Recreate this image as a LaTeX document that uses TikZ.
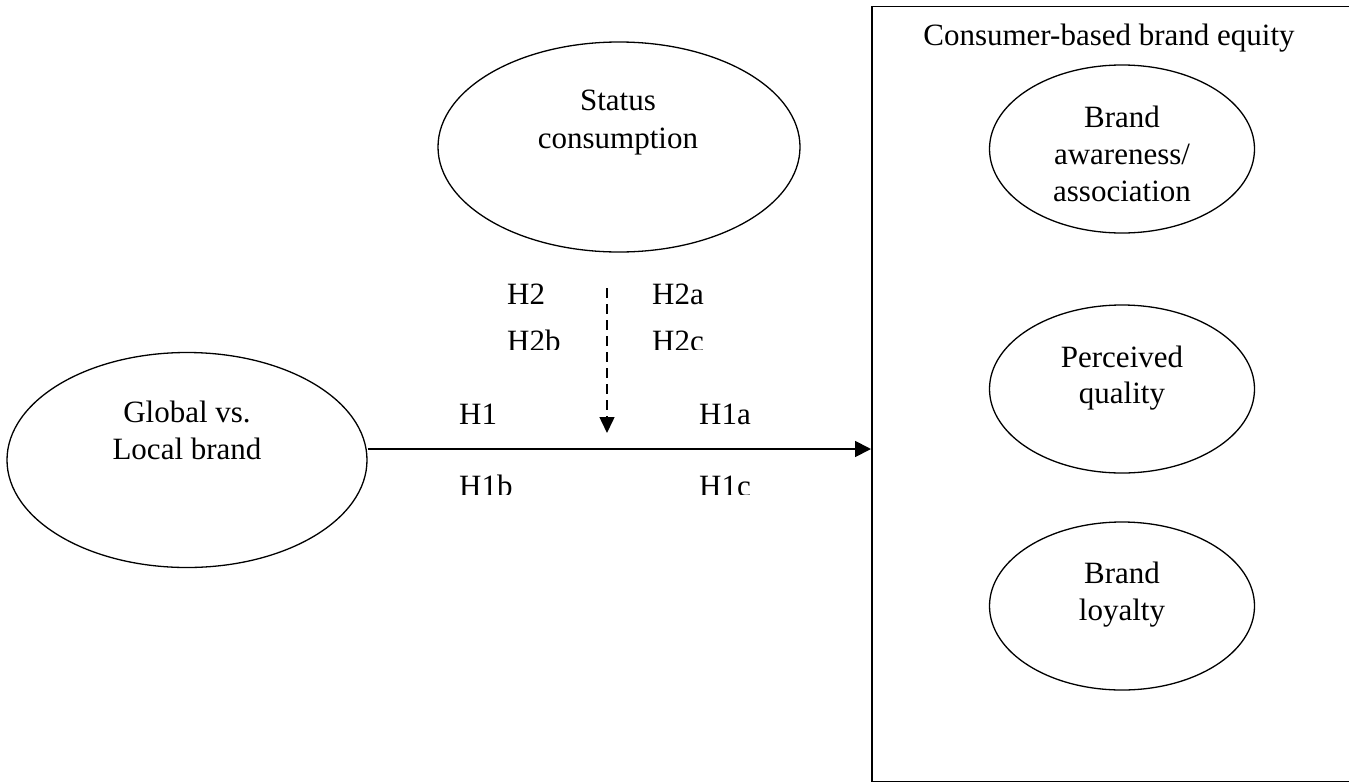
\documentclass[tikz,border=0pt]{standalone}
\usepackage{fontspec}
\setmainfont{Liberation Serif}
\usetikzlibrary{shapes.geometric,arrows.meta}
\begin{document}
\begin{tikzpicture}[x=1pt,y=-1pt,
  font=\fontsize{31}{37.5}\selectfont,
  oval/.style={draw, ellipse, line width=1.3pt, inner sep=0pt},
  txt/.style={anchor=base, inner sep=0pt},
  hlab/.style={anchor=base west, inner sep=0pt},
  solidarrow/.style={line width=1.8pt, -{Triangle[length=16pt,width=16pt]}},
  dasharrow/.style={line width=1.5pt, dash pattern=on 10pt off 6pt, -{Triangle[length=16pt,width=15pt]}},
  framebox/.style={draw, line width=1.5pt, rectangle, inner sep=0pt, anchor=north west}
]
\useasboundingbox (0,0) rectangle (1349,782);
\clip (0,0) rectangle (1349,782);

% outer box
\node[framebox, minimum width=481pt, minimum height=775pt] (cbbe) at (871,5.5) {};
\node[txt] (title) at (1109,45) {Consumer-based brand equity};

% ellipses
\node[oval, minimum width=360pt, minimum height=215pt] (gl) at (187,460) {};
\node[oval, minimum width=362pt, minimum height=210pt] (sc) at (619,147) {};
\node[oval, minimum width=265pt, minimum height=168pt] (ba) at (1122,149) {};
\node[oval, minimum width=265pt, minimum height=168pt] (pq) at (1122,389) {};
\node[oval, minimum width=265pt, minimum height=168pt] (bl) at (1122,606) {};

% ellipse texts
\node[txt] (gl1) at (187,422) {Global vs.};
\node[txt] (gl2) at (187,459) {Local brand};
\node[txt] (sc1) at (618,110) {Status};
\node[txt] (sc2) at (618,148) {consumption};
\node[txt] (ba1) at (1122,127) {Brand};
\node[txt] (ba2) at (1122,164) {awareness/};
\node[txt] (ba3) at (1122,201) {association};
\node[txt] (pq1) at (1122,367) {Perceived};
\node[txt] (pq2) at (1122,403) {quality};
\node[txt] (bl1) at (1122,583) {Brand};
\node[txt] (bl2) at (1122,620) {loyalty};

% hypothesis labels
\node[hlab] (h2) at (507,304) {H2};
\node[hlab] (h2a) at (652,304) {H2a};
\node[hlab] (h1) at (459,424) {H1};
\node[hlab] (h1a) at (699,424) {H1a};
\begin{scope}
  \clip (400,300) rectangle (800,349);
  \node[hlab] (h2b) at (507,351) {H2b};
  \node[hlab] (h2c) at (652,351) {H2c};
\end{scope}
\begin{scope}
  \clip (400,455) rectangle (800,494);
  \node[hlab] (h1b) at (459,496) {H1b};
  \node[hlab] (h1c) at (699,496) {H1c};
\end{scope}

% connectors
\coordinate (hy) at (0,449);
\draw[solidarrow] (gl.east |- hy) -- (cbbe.west |- hy);
\coordinate (dtop) at (607,288);
\coordinate (dtip) at (607,433);
\draw[dasharrow] (dtop) -- (dtip);
\end{tikzpicture}
\end{document}
